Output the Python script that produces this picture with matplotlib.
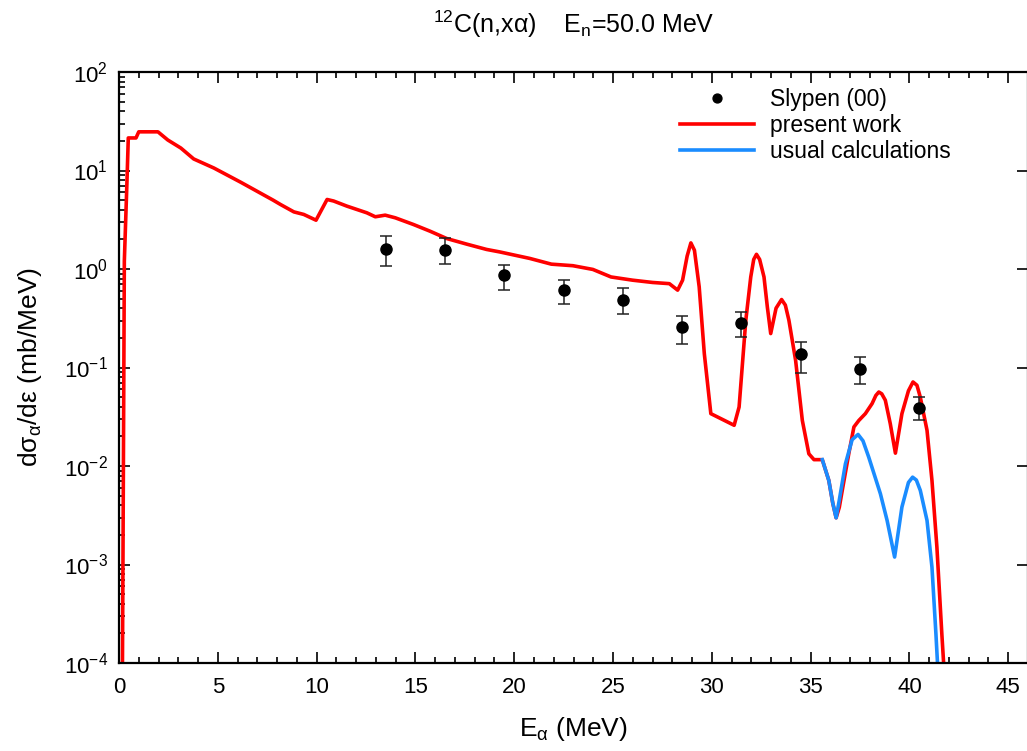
import numpy as np
import matplotlib
matplotlib.use("Agg")
import matplotlib.pyplot as plt
from matplotlib.ticker import MultipleLocator, LogLocator, NullFormatter

# experimental points: Slypen (00)
exp_e = [13.5, 16.5, 19.5, 22.5, 25.5, 28.5, 31.5, 34.5, 37.5, 40.5]
exp_y = [1.59, 1.55, 0.865, 0.61, 0.48, 0.256, 0.283, 0.136, 0.0966, 0.0385]
exp_hi = [2.15, 2.06, 1.09, 0.77, 0.64, 0.33, 0.364, 0.18, 0.127, 0.0498]
exp_lo = [1.07, 1.12, 0.61, 0.44, 0.35, 0.172, 0.203, 0.087, 0.0675, 0.029]

# present work
red_e = [0.15, 0.2, 0.27, 0.40, 0.47, 0.86, 1.0, 1.97, 2.47, 3.13, 3.78, 4.8,
         6.16, 7.8, 8.17, 8.85, 9.35, 9.97, 10.53, 10.86, 11.53, 12.54, 12.97,
         13.47, 13.98, 14.9, 15.74, 16.58, 17.59, 18.6, 19.27, 20.79, 21.88,
         22.97, 23.98, 24.9, 25.99, 27.0, 27.85, 28.27, 28.52, 28.75, 28.94,
         29.12, 29.36, 29.62, 29.95, 31.13, 31.38, 31.72, 31.97, 32.12, 32.26,
         32.42, 32.64, 32.81, 32.98, 33.25, 33.53, 33.72, 33.90, 34.24, 34.58,
         34.91, 35.17, 35.59, 35.92, 36.12, 36.29, 36.45, 36.6, 36.93, 37.19,
         37.44, 37.77, 38.11, 38.3, 38.45, 38.6, 38.78, 39.03, 39.29, 39.62,
         39.95, 40.18, 40.38, 40.55, 40.89, 41.14, 41.39, 41.64, 41.73, 41.85]
red_y = [1e-5, 1e-3, 1.2, 7.4, 21.4, 21.4, 24.7, 24.7, 20.4, 16.9, 13.1, 10.6,
         7.6, 5.0, 4.52, 3.8, 3.58, 3.13, 5.08, 4.9, 4.35, 3.72, 3.39,
         3.52, 3.31, 2.83, 2.42, 2.04, 1.79, 1.58, 1.49, 1.28, 1.12,
         1.08, 0.99, 0.83, 0.77, 0.73, 0.71, 0.61, 0.77, 1.35, 1.84,
         1.55, 0.66, 0.138, 0.034, 0.0259, 0.0397, 0.302, 0.83, 1.25, 1.41,
         1.25, 0.83, 0.41, 0.221, 0.40, 0.49, 0.43, 0.302, 0.118, 0.029,
         0.0133, 0.0116, 0.0116, 0.00714, 0.0042, 0.00298, 0.0038, 0.00565, 0.0133, 0.0249,
         0.029, 0.034, 0.043, 0.052, 0.0564, 0.054, 0.0465, 0.0269, 0.0135, 0.034,
         0.058, 0.0713, 0.066, 0.050, 0.023, 0.00714, 0.0015, 0.000197, 1e-4, 1e-5]

# usual calculations
blue_e = [35.59, 35.92, 36.12, 36.29, 36.45, 36.76, 37.1, 37.4, 37.65,
          37.94, 38.53, 38.87, 39.25, 39.62, 39.95, 40.16, 40.35, 40.55, 40.89,
          41.14, 41.34, 41.42, 41.55]
blue_y = [0.0116, 0.00714, 0.0042, 0.00298, 0.0045, 0.0105, 0.0185, 0.0209, 0.018,
          0.0123, 0.00523, 0.0028, 0.00119, 0.00383, 0.0068, 0.0077, 0.0072, 0.00565, 0.0028,
          0.00094, 0.000198, 1e-4, 1e-5]

plt.rcParams["font.family"] = ["Liberation Sans", "DejaVu Sans"]
plt.rcParams["mathtext.fontset"] = "custom"
plt.rcParams["mathtext.rm"] = "Liberation Sans"
plt.rcParams["mathtext.it"] = "Liberation Sans"
plt.rcParams["mathtext.default"] = "regular"

fig = plt.figure(figsize=(10.27, 7.51), dpi=100)
ax = fig.add_axes([119 / 1027, 88 / 751, 909 / 1027, 591 / 751])

yerr = [np.array(exp_y) - np.array(exp_lo), np.array(exp_hi) - np.array(exp_y)]
ax.errorbar(exp_e, exp_y, yerr=yerr, fmt="none", ecolor="#222222",
            elinewidth=1.1, capsize=4, capthick=1.1, zorder=3)
ax.plot(exp_e, exp_y, "o", color="black", markersize=8, zorder=4,
        label="Slypen (00)")
ax.plot(red_e, red_y, color="#ff0000", lw=2.6, label="present work", zorder=2)
ax.plot(blue_e, blue_y, color="#1a8cff", lw=2.6, label="usual calculations",
        zorder=2.5)

ax.set_yscale("log")
ax.set_xlim(0, 46)
ax.set_ylim(1e-4, 1e2)

ax.xaxis.set_major_locator(MultipleLocator(5))
ax.xaxis.set_minor_locator(MultipleLocator(1))
ax.yaxis.set_major_locator(LogLocator(base=10, numticks=10))
ax.yaxis.set_minor_locator(LogLocator(base=10, subs=np.arange(2, 10), numticks=20))
ax.yaxis.set_minor_formatter(NullFormatter())
ax.tick_params(which="both", direction="in", top=True, right=True, width=1.2,
               labelsize=16)
ax.tick_params(which="major", length=8)
ax.tick_params(which="minor", length=4)
ax.tick_params(axis="y", which="minor", right=False)
ax.tick_params(axis="x", pad=10)
ax.tick_params(axis="y", pad=8)
for s in ax.spines.values():
    s.set_linewidth(1.6)

ax.set_xlabel("E$_{α}$ (MeV)", fontsize=19, labelpad=12)
ax.set_ylabel("dσ$_{α}$/dε (mb/MeV)", fontsize=19, labelpad=14)
ax.set_title("$^{12}$C(n,xα)    E$_{n}$=50.0 MeV", fontsize=18, pad=28)

leg = ax.legend(loc="upper left", bbox_to_anchor=(0.605, 0.992), frameon=False,
                handlelength=3.2, handletextpad=0.7,
                labelspacing=0.12, borderpad=0, markerscale=0.8,
                prop={"size": 16.5})

fig.savefig("out.png", dpi=100)
